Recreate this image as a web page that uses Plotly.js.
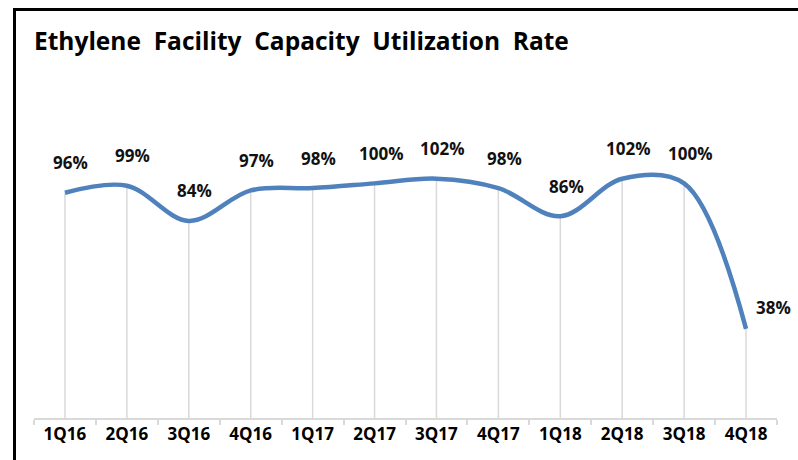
<!DOCTYPE html>
<html>
<head>
<meta charset="utf-8">
<script src="https://cdn.plot.ly/plotly-3.0.1.min.js"></script>
<style>
  html, body { margin: 0; padding: 0; background: #fff; }
  #wrap { position: relative; width: 798px; height: 460px; overflow: hidden; }
  #chart { position: absolute; left: 0; top: 0; width: 798px; height: 460px; }
  #frame { position: absolute; left: 13px; top: 8px; width: 800px; height: 470px;
           border-left: 3px solid #000; border-top: 3px solid #000; pointer-events: none; }
</style>
</head>
<body>
<div id="wrap">
  <div id="chart"></div>
  <div id="frame"></div>
</div>
<script>
// ---- data ----
var categories = ['1Q16','2Q16','3Q16','4Q16','1Q17','2Q17','3Q17','4Q17','1Q18','2Q18','3Q18','4Q18'];
var utilization = [96, 99, 84, 97, 98, 100, 102, 98, 86, 102, 100, 38];
var valueLabels = utilization.map(function (v) { return v + '%'; });
var titleWords = ['Ethylene', 'Facility', 'Capacity', 'Utilization', 'Rate'];

// drop lines from each point to the axis
var dropX = [], dropY = [];
categories.forEach(function (c, i) {
  dropX.push(c, c, null);
  dropY.push(utilization[i], 0, null);
});

var FONT = 'Open Sans, Liberation Sans, Arial, sans-serif';

var traces = [
  {
    x: dropX, y: dropY, mode: 'lines', type: 'scatter',
    line: { color: '#d9d9d9', width: 1.5 },
    hoverinfo: 'skip', showlegend: false
  },
  {
    x: categories, y: utilization, mode: 'lines', type: 'scatter',
    line: { color: '#4f81bd', width: 4.5, shape: 'spline', smoothing: 1 },
    showlegend: false
  }
];

var last = categories.length - 1;
var annotations = categories.map(function (c, i) {
  var isLast = (i === last);
  return {
    x: c, y: utilization[i], xref: 'x', yref: 'y',
    text: valueLabels[i], showarrow: false,
    xanchor: 'center', yanchor: 'middle',
    xshift: isLast ? 27 : 6, yshift: isLast ? 21 : 30,
    font: { family: FONT, size: 17, color: '#111', weight: 'bold' }
  };
});

var layout = {
  width: 798, height: 460,
  margin: { l: 34, r: 21, t: 113, b: 42 },
  paper_bgcolor: '#fff', plot_bgcolor: '#fff',
  title: {
    text: titleWords.join('\u00a0 '),
    xref: 'container', yref: 'container',
    x: 34 / 798, xanchor: 'left',
    y: 1 - 41 / 460, yanchor: 'middle',
    font: { family: FONT, size: 24.5, color: '#000', weight: 'bold' }
  },
  xaxis: {
    type: 'category', range: [-0.5, 11.5],
    showgrid: false, zeroline: false,
    showline: true, linecolor: '#d9d9d9', linewidth: 2,
    ticks: 'outside', tickson: 'boundaries', ticklen: 5, tickcolor: '#d9d9d9', tickwidth: 2,
    tickfont: { family: FONT, size: 17, color: '#000', weight: 'bold' },
    fixedrange: true
  },
  yaxis: {
    range: [0, 130], visible: false, showgrid: false, zeroline: false, fixedrange: true
  },
  annotations: annotations,
  showlegend: false
};

Plotly.newPlot('chart', traces, layout, { displayModeBar: false, staticPlot: true });
</script>
</body>
</html>
